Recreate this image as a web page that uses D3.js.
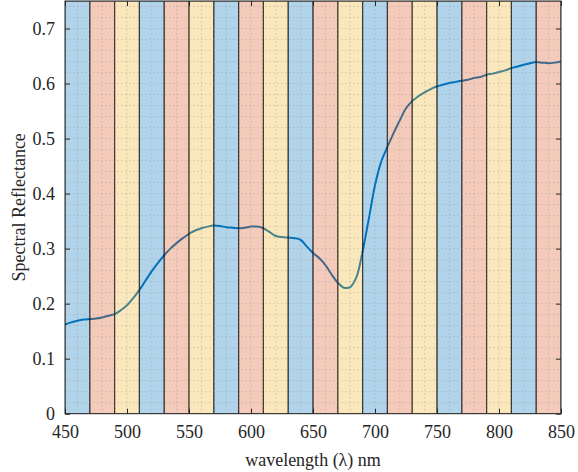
<!DOCTYPE html>
<html>
<head>
<meta charset="utf-8">
<script src="https://cdn.jsdelivr.net/npm/d3@7"></script>
<style>
html,body{margin:0;padding:0;background:#fff;}
svg{display:block;}
</style>
</head>
<body>
<svg id="chart" width="578" height="472"></svg>
<script>
// ---- data ----
const wavelengths = [450,455,460,465,470,475,480,485,490,495,500,505,510,515,520,525,530,535,540,545,550,555,560,565,570,575,580,585,590,595,600,605,610,615,620,625,630,635,640,645,650,655,660,665,670,675,680,685,690,695,700,705,710,715,720,725,730,735,740,745,750,755,760,765,770,775,780,785,790,795,800,805,810,815,820,825,830,835,840,845,850];
const reflectance = [0.162,0.166,0.169,0.171,0.172,0.173,0.175,0.178,0.181,0.188,0.197,0.210,0.225,0.242,0.259,0.274,0.288,0.300,0.310,0.319,0.327,0.333,0.337,0.340,0.342,0.341,0.339,0.338,0.337,0.338,0.340,0.340,0.337,0.330,0.323,0.321,0.320,0.319,0.316,0.304,0.292,0.283,0.270,0.253,0.238,0.229,0.230,0.248,0.295,0.354,0.415,0.458,0.485,0.510,0.533,0.555,0.568,0.577,0.584,0.590,0.595,0.598,0.601,0.603,0.605,0.607,0.610,0.612,0.616,0.618,0.621,0.624,0.628,0.631,0.634,0.637,0.639,0.638,0.637,0.638,0.640];
const bandStarts = [450,470,490,510,530,550,570,590,610,630,650,670,690,710,730,750,770,790,810,830];
const bandColors = ["#0072BD","#D95319","#EDB120"];
const xTicks = [450,500,550,600,650,700,750,800,850];
const yTicks = [0,0.1,0.2,0.3,0.4,0.5,0.6,0.7];
const xLabel = "wavelength (λ) nm";
const yLabel = "Spectral Reflectance";

// ---- layout ----
const svg = d3.select("#chart");
const L = 65, R = 561, T = 1, B = 413.7;
const x = d3.scaleLinear().domain([450,850]).range([L,R]);
const y = d3.scaleLinear().domain([0,0.75]).range([B,T]);
const font = "'Liberation Serif','Times New Roman',serif";

// clip
svg.append("defs").append("clipPath").attr("id","clip")
  .append("rect").attr("x",L).attr("y",T).attr("width",R-L).attr("height",B-T);

const plot = svg.append("g").attr("clip-path","url(#clip)");

// line
const line = d3.line().x((d,i)=>x(wavelengths[i])).y(d=>y(d)).curve(d3.curveCatmullRom);
plot.append("path").datum(reflectance)
  .attr("d",line).attr("fill","none")
  .attr("stroke","#0072BD").attr("stroke-width",2);

// bands (translucent, on top)
plot.selectAll("rect.band").data(bandStarts).enter().append("rect")
  .attr("class","band")
  .attr("x",d=>x(d)).attr("y",T).attr("width",d=>x(d+20)-x(d)).attr("height",B-T)
  .attr("fill",(d,i)=>bandColors[i%3]).attr("fill-opacity",0.3)
  .attr("stroke","#000").attr("stroke-opacity",0.55).attr("stroke-width",1.2);

// grid
const minorX = d3.range(450,851,10);
const minorY = d3.range(0,0.751,0.02);
const grid = svg.append("g").attr("clip-path","url(#clip)");
grid.selectAll("line.gx").data(minorX).enter().append("line")
  .attr("x1",d=>x(d)).attr("x2",d=>x(d)).attr("y1",T).attr("y2",B)
  .attr("stroke","#888").attr("stroke-opacity",0.35).attr("stroke-dasharray","1.5,2.5").attr("stroke-width",1);
grid.selectAll("line.gy").data(minorY).enter().append("line")
  .attr("y1",d=>y(d)).attr("y2",d=>y(d)).attr("x1",L).attr("x2",R)
  .attr("stroke","#888").attr("stroke-opacity",0.35).attr("stroke-dasharray","1.5,2.5").attr("stroke-width",1);

// axes (ticks inward)
const axColor = "#262626";
const xAxis = svg.append("g").attr("transform",`translate(0,${B})`)
  .call(d3.axisBottom(x).tickValues(xTicks).tickSizeInner(-5).tickSizeOuter(0).tickPadding(12));
const yAxis = svg.append("g").attr("transform",`translate(${L},0)`)
  .call(d3.axisLeft(y).tickValues(yTicks).tickSizeInner(-5).tickSizeOuter(0).tickPadding(10).tickFormat(d=>d===0?"0":d3.format(".1f")(d)));
const xAxisTop = svg.append("g").attr("transform",`translate(0,${T})`)
  .call(d3.axisTop(x).tickValues(xTicks).tickSizeInner(-5).tickSizeOuter(0).tickFormat(""));
const yAxisRight = svg.append("g").attr("transform",`translate(${R},0)`)
  .call(d3.axisRight(y).tickValues(yTicks).tickSizeInner(-5).tickSizeOuter(0).tickFormat(""));
[xAxis,yAxis,xAxisTop,yAxisRight].forEach(g=>{
  g.select(".domain").remove();
  g.selectAll(".tick line").attr("stroke",axColor);
  g.selectAll("text").attr("fill",axColor).style("font-family",font).style("font-size","18px");
});
// box
svg.append("rect").attr("x",L).attr("y",T).attr("width",R-L).attr("height",B-T)
  .attr("fill","none").attr("stroke",axColor).attr("stroke-width",1);

// labels
svg.append("text").attr("x",(L+R)/2).attr("y",466).attr("text-anchor","middle")
  .attr("fill",axColor).style("font-family",font).style("font-size","18px").text(xLabel);
svg.append("text").attr("transform",`translate(25,${(T+B)/2}) rotate(-90)`).attr("text-anchor","middle")
  .attr("fill",axColor).style("font-family",font).style("font-size","18px").text(yLabel);
</script>
</body>
</html>
